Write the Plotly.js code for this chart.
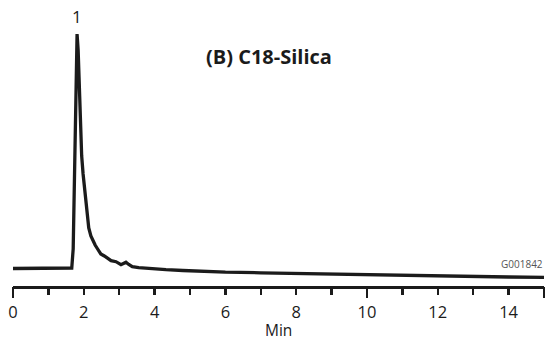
<!DOCTYPE html>
<html>
<head>
<meta charset="utf-8">
<script src="https://cdn.plot.ly/plotly-3.0.1.min.js"></script>
<style>
  html, body { margin: 0; padding: 0; background: #fff; }
  #chart { width: 546px; height: 340px; }
</style>
</head>
<body>
<div id="chart"></div>
<script>
// Chromatogram on C18-silica: retention time (min) vs detector signal
var timeMin = [0.00, 1.00, 1.60, 1.66, 1.70, 1.74, 1.78, 1.81, 1.84, 1.87, 1.90, 1.94,
               1.98, 2.02, 2.06, 2.10, 2.14, 2.20, 2.25, 2.32, 2.39, 2.48, 2.58, 2.68,
               2.77, 2.91, 3.00, 3.05, 3.12, 3.19, 3.27, 3.37, 3.55, 3.75, 4.00, 4.32,
               4.80, 5.25, 6.00, 7.00, 8.00, 9.00, 10.00, 11.00, 12.00, 13.00, 14.00, 15.00];
var signal = [17.5, 17.5, 17.5, 18, 37, 127, 227, 252, 236, 196, 158, 130,
              112, 99, 86, 70, 58, 50, 46, 41, 37, 32, 30, 27.5,
              25.3, 24.3, 22.5, 21.3, 22.5, 23.7, 21.5, 19.3, 18.3, 17.7, 17, 16.3,
              15.5, 14.6, 13.8, 13.2, 12.5, 11.8, 11, 10.5, 10, 9.5, 9, 8.7];

var peakLabels = ["1"];
var peakTimes = [1.81];
var peakHeights = [252];

var minorTicks = [0,1,2,3,4,5,6,7,8,9,10,11,12,13,14,15];
var tickLabels = ["0","","2","","4","","6","","8","","10","","12","","14",""];
var longTicks = [0, 10, 15];
var xAxisTitle = "Min";

var ink = "#1b1b1b";
var fontFam = "'Open Sans', 'Noto Sans', sans-serif";

var trace = {
  x: timeMin, y: signal, type: "scatter", mode: "lines",
  line: { color: ink, width: 3.3 }, hoverinfo: "skip", showlegend: false
};
// invisible companion trace so the second x axis is drawn
var anchorTrace = {
  x: [0, 15], y: [0, 0], xaxis: "x2", type: "scatter", mode: "lines",
  line: { width: 0 }, hoverinfo: "skip", showlegend: false
};

var annotations = peakLabels.map(function (lab, i) {
  return {
    x: peakTimes[i], y: peakHeights[i], xref: "x", yref: "y",
    text: lab, showarrow: false, yanchor: "bottom", yshift: 4,
    font: { family: fontFam, size: 17, color: ink }
  };
});
annotations.push({
  x: 0.483, y: 0.83, xref: "paper", yref: "paper",
  text: "<b>(B) C18-Silica</b>", showarrow: false, xanchor: "center", yanchor: "middle",
  font: { family: fontFam, size: 20, color: ink }
});
annotations.push({
  x: 1.0, y: 0.078, xref: "paper", yref: "paper",
  text: "G001842", showarrow: false, xanchor: "right", yanchor: "middle", xshift: 1,
  font: { family: fontFam, size: 10, color: "#555" }
});
// axis caption placed under the tick labels
annotations.push({
  x: 0.5, y: -0.158, xref: "paper", yref: "paper",
  text: xAxisTitle, showarrow: false, xanchor: "center", yanchor: "middle",
  font: { family: fontFam, size: 15.5, color: ink }
});

var layout = {
  width: 546, height: 340,
  margin: { l: 13, r: 2, t: 10, b: 54 },
  paper_bgcolor: "#fff", plot_bgcolor: "#fff",
  xaxis: {
    range: [0, 15], showgrid: false, zeroline: false,
    showline: true, linecolor: ink, linewidth: 2.8,
    tickmode: "array", tickvals: minorTicks, ticktext: tickLabels,
    ticks: "outside", ticklen: 6, tickwidth: 2.4, tickcolor: ink,
    ticklabelstandoff: 3,
    tickfont: { family: fontFam, size: 16.5, color: ink }
  },
  xaxis2: {
    range: [0, 15], overlaying: "x", anchor: "y", side: "bottom",
    showgrid: false, zeroline: false, showline: false,
    tickmode: "array", tickvals: longTicks, showticklabels: false,
    ticks: "outside", ticklen: 11, tickwidth: 2.4, tickcolor: ink
  },
  yaxis: {
    range: [0, 276], visible: false, showgrid: false, zeroline: false, fixedrange: true
  },
  annotations: annotations
};

Plotly.newPlot("chart", [trace, anchorTrace], layout, { staticPlot: true, displayModeBar: false });
</script>
</body>
</html>
